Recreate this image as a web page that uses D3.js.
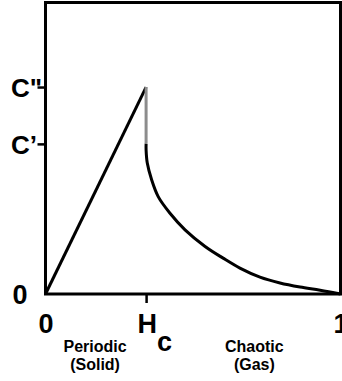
<!DOCTYPE html>
<html lang="en">
<head>
  <meta charset="UTF-8">
  <title>Periodic / Chaotic</title>
  <script src="https://cdn.jsdelivr.net/npm/d3@7"></script>
  <style>
    body { margin: 0; background: #fff; }
    text { font-family: 'Liberation Sans', Arial, sans-serif; font-weight: bold; fill: #000; }
  </style>
</head>
<body>
  <div id="box"></div>
  <script>
    // data
    const width = 342
    const height = 381
    const margin = { left: 45.5, right: 1.5, top: 2.5, bottom: 87 }

    const Hc = 0.341
    const C1 = 0.515 // C'
    const C2 = 0.71  // C''

    // rising branch (periodic)
    const riseX = [0, Hc]
    const riseY = [0, C2]
    // drop at Hc (grey)
    const dropY = [C2, C1]
    // decaying branch (chaotic)
    const decayX = [0.341, 0.341, 0.345, 0.36, 0.382, 0.422, 0.473, 0.541, 0.602, 0.659, 0.727, 0.795, 0.863, 0.931, 1.0]
    const decayY = [0.515, 0.494, 0.449, 0.391, 0.334, 0.277, 0.22, 0.163, 0.123, 0.089, 0.058, 0.038, 0.024, 0.013, 0.0]

    const yTicks = [0, C1, C2]
    const yLabels = ['0', 'C\u2019', 'C"']
    const xTicks = [0, Hc, 1]
    const regions = [
      { x: 0.168, lines: ['Periodic', '(Solid)'] },
      { x: 0.708, lines: ['Chaotic', '(Gas)'] }
    ]

    const svg = d3.select('#box').append('svg')
      .attr('width', width)
      .attr('height', height)

    const x = d3.scaleLinear().domain([0, 1]).range([margin.left, width - margin.right])
    const y = d3.scaleLinear().domain([0, 1]).range([height - margin.bottom, margin.top])

    // frame
    svg.append('rect')
      .attr('x', x(0)).attr('y', y(1))
      .attr('width', x(1) - x(0)).attr('height', y(0) - y(1))
      .attr('fill', 'none').attr('stroke', '#000').attr('stroke-width', 3)

    // y axis
    const yAxis = d3.axisLeft(y).tickValues(yTicks)
      .tickFormat((d, i) => yLabels[i]).tickSize(8).tickPadding(4)
    const gy = svg.append('g').attr('transform', `translate(${x(0)},0)`).call(yAxis)
    gy.select('.domain').remove()
    gy.selectAll('.tick line').attr('stroke-width', 2.5).attr('opacity', d => d === 0 ? 0 : 1)
    gy.selectAll('.tick text')
      .attr('text-anchor', 'start').attr('x', d => d === 0 ? -33 : -34.5)
      .attr('dy', d => d === 0 ? '0.36em' : '0.38em')
      .attr('font-size', d => d === 0 ? 27 : 26)

    // x axis
    const xAxis = d3.axisBottom(x).tickValues(xTicks).tickSize(9).tickPadding(10)
      .tickFormat(d => d === Hc ? '' : d3.format('d')(d))
    const gx = svg.append('g').attr('transform', `translate(0,${y(0)})`).call(xAxis)
    gx.select('.domain').remove()
    gx.selectAll('.tick line').attr('stroke-width', 2.5).attr('opacity', d => d === Hc ? 1 : 0)
    gx.selectAll('.tick text').attr('font-size', 27).attr('dy', 0).attr('y', 39)
    const hc = gx.selectAll('.tick').filter(d => d === Hc).select('text')
      .attr('text-anchor', 'start').attr('x', -9)
    hc.append('tspan').text('H')
    hc.append('tspan').attr('dy', 18).text('c')

    // region labels
    regions.forEach(r => {
      const t = svg.append('text').attr('text-anchor', 'middle').attr('font-size', 16)
      r.lines.forEach((s, i) => {
        t.append('tspan').attr('x', x(r.x)).attr('y', 352 + i * 18).text(s)
      })
    })

    // curves
    const line = d3.line().x(d => x(d[0])).y(d => y(d[1]))
    svg.append('path')
      .datum(riseX.map((v, i) => [v, riseY[i]]))
      .attr('d', line).attr('fill', 'none').attr('stroke', '#000').attr('stroke-width', 3)
    svg.append('path')
      .datum(dropY.map(v => [Hc, v]))
      .attr('d', line).attr('fill', 'none').attr('stroke', '#8c8c8c').attr('stroke-width', 3)
    svg.append('path')
      .datum(decayX.map((v, i) => [v, decayY[i]]))
      .attr('d', line.curve(d3.curveCatmullRom.alpha(0.5)))
      .attr('fill', 'none').attr('stroke', '#000').attr('stroke-width', 3)
  </script>
</body>
</html>
